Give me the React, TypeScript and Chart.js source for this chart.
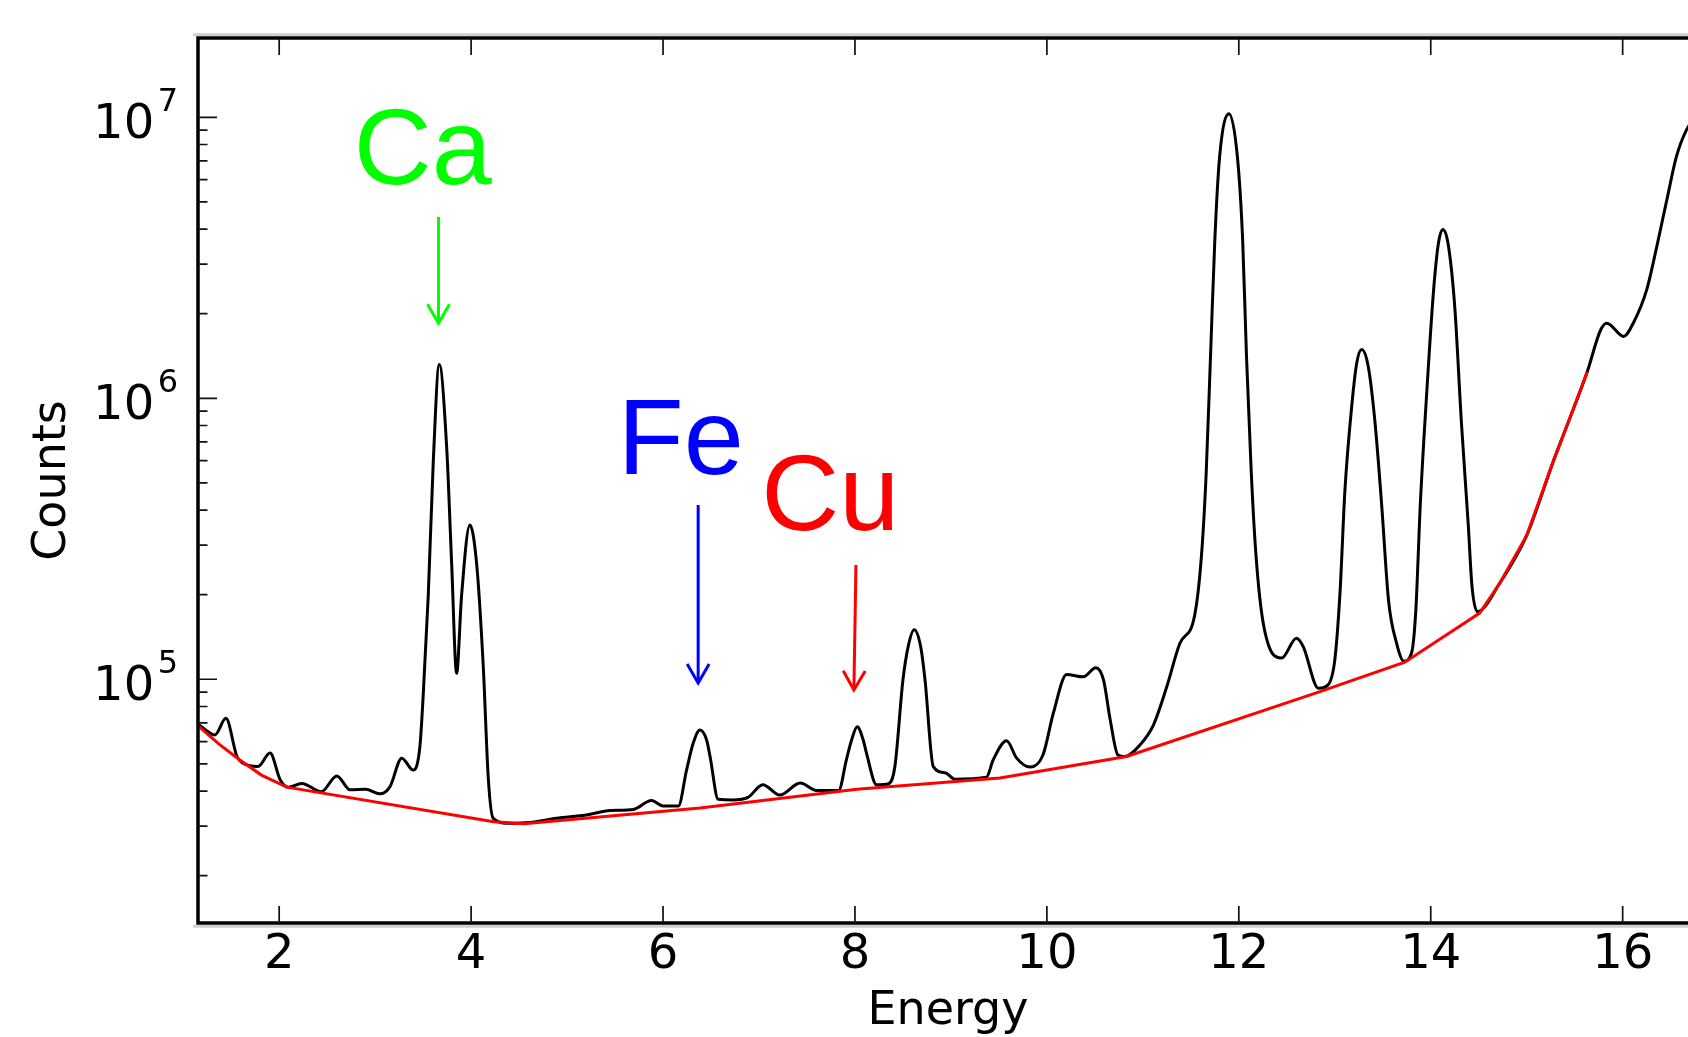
import React, { useEffect, useRef } from 'react';
import { Chart, registerables } from 'chart.js';

Chart.register(...registerables);

// ---- Spectrum (black) ----
const energy = [
  1.16, 1.33, 1.445, 1.56, 1.625, 1.78, 1.905, 2.01, 2.095, 2.235, 2.44, 2.6, 2.74, 2.9, 3.05, 3.155,
  3.277, 3.397, 3.466, 3.5, 3.553, 3.605, 3.668, 3.745, 3.797, 3.849, 3.9, 3.987, 4.057, 4.125, 4.18,
  4.23, 4.405, 4.61, 4.89, 5.2, 5.45, 5.69, 5.88, 6.0, 6.16, 6.245, 6.314, 6.385, 6.454, 6.49, 6.575, 6.73, 6.885,
  7.04, 7.216, 7.43, 7.6, 7.83, 7.91, 7.965, 8.023, 8.086, 8.12, 8.226, 8.347, 8.416, 8.5, 8.555, 8.617, 8.684, 8.73, 8.816, 8.94,
  9.04, 9.37, 9.44, 9.58, 9.685, 9.825, 9.96, 10.067, 10.206, 10.38, 10.51, 10.59, 10.66, 10.74, 10.81,
  10.97, 11.11, 11.25, 11.385, 11.54, 11.61, 11.66, 11.705, 11.75, 11.8, 11.898, 11.985, 12.04, 12.08,
  12.13, 12.18, 12.255, 12.447, 12.6, 12.67, 12.83, 12.93, 13.0, 13.054, 13.106, 13.176, 13.228, 13.28,
  13.35, 13.42, 13.49, 13.56, 13.645, 13.72, 13.8, 13.845, 13.89, 13.96, 14.03, 14.08, 14.125, 14.18,
  14.25, 14.32, 14.39, 14.43, 14.486, 14.72, 15.0, 15.28, 15.42, 15.63, 15.77, 15.835, 16.01, 16.11,
  16.25, 16.355, 16.46, 16.56, 16.665, 16.78,
];
const counts = [
  6.9e4, 6.34e4, 7.26e4, 5.31e4, 5.02e4, 4.89e4, 5.46e4, 4.39e4, 4.13e4, 4.26e4, 3.98e4, 4.53e4, 4.04e4, 4.06e4, 3.91e4, 4.15e4,
  5.24e4, 4.75e4, 5.75e4, 8.67e4, 1.97e5, 5.87e5, 1.32e6, 6.73e5, 2.59e5, 1.05e5, 1.97e5, 3.54e5, 2.59e5, 1.14e5, 4.39e4,
  3.2e4, 3.07e4, 3.09e4, 3.2e4, 3.29e4, 3.41e4, 3.44e4, 3.7e4, 3.54e4, 3.54e4, 4.75e4, 5.92e4, 6.6e4, 6.08e4, 5.31e4, 3.74e4, 3.72e4, 3.8e4,
  4.21e4, 3.87e4, 4.27e4, 4.02e4, 4.02e4, 5.16e4, 6.08e4, 6.78e4, 6.08e4, 5.46e4, 4.21e4, 4.24e4, 4.89e4, 9.95e4, 1.31e5, 1.5e5, 1.31e5, 9.95e4, 4.89e4, 4.65e4,
  4.41e4, 4.48e4, 5.16e4, 6.04e4, 5.24e4, 4.87e4, 5.39e4, 7.57e4, 1.04e5, 1.02e5, 1.1e5, 9.95e4, 7.16e4, 5.38e4, 5.31e4,
  5.84e4, 6.87e4, 9.42e4, 1.34e5, 1.69e5, 2.73e5, 5.41e5, 1.41e6, 3.66e6, 7.24e6, 1.03e7, 7.24e6, 3.66e6, 1.41e6,
  5.41e5, 2.73e5, 1.58e5, 1.19e5, 1.4e5, 1.31e5, 9.29e4, 9.55e4, 1.17e5, 2.02e5, 4.72e5, 9.33e5, 1.33e6, 1.49e6,
  1.29e6, 8.15e5, 4.11e5, 1.91e5, 1.34e5, 1.16e5, 1.24e5, 1.77e5, 4.11e5, 1.07e6, 2.43e6, 3.56e6, 3.99e6, 3.56e6,
  2.12e6, 8.15e5, 3.59e5, 2.14e5, 1.74e5, 2.2e5, 3.25e5, 6.0e5, 8.0e5, 1.24e6, 1.75e6, 1.85e6, 1.66e6, 1.85e6,
  2.43e6, 3.46e6, 5.08e6, 7.24e6, 9.02e6, 1.02e7,
];

// ---- Background (red) ----
const bgEnergy = [1.16, 1.38, 1.59, 1.815, 2.08, 4.235, 4.55, 6.385, 8.02, 9.51, 10.83, 12.846, 13.73, 14.51, 14.72, 15.0, 15.28, 15.42, 15.63];
const bgCounts = [6.8e4, 5.85e4, 5.16e4, 4.56e4, 4.13e4, 3.11e4, 3.06e4, 3.48e4, 4.06e4, 4.45e4, 5.31e4, 9.04e4, 1.15e5, 1.72e5, 2.2e5, 3.25e5, 6.0e5, 8.0e5, 1.24e6];

// ---- Axes ----
const xTicks = [2, 4, 6, 8, 10, 12, 14, 16];
const yMajor = [1e5, 1e6, 1e7];
const yMantissa = [2, 3, 4, 5, 6, 7, 8, 9];
const X_MIN = 1.154;
const X_MAX = 16.785;
const Y_MIN = 13570;
const Y_MAX = 1.915e7;

// ---- Annotations ----
const annText = ['Ca', 'Fe', 'Cu'];
const annColor = ['#00ff00', '#0000ff', '#ff0000'];
const annTextX = [3.496, 6.186, 7.744];
const annTextY = [5.77e6, 5.38e5, 3.41e5];
const arrStartX = [3.66, 6.366, 8.01];
const arrStartY = [4.42e6, 4.17e5, 2.55e5];
const arrEndX = [3.66, 6.366, 7.989];
const arrEndY = [1.85e6, 9.7e4, 9.16e4];

function drawArrow(ctx: CanvasRenderingContext2D, x0: number, y0: number, x1: number, y1: number, color: string) {
  const ang = Math.atan2(y1 - y0, x1 - x0);
  const hl = 22;
  const ha = Math.PI / 6;
  ctx.strokeStyle = color;
  ctx.lineWidth = 3;
  ctx.lineJoin = 'miter';
  ctx.beginPath();
  ctx.moveTo(x0, y0);
  ctx.lineTo(x1, y1);
  ctx.stroke();
  ctx.beginPath();
  ctx.moveTo(x1 - hl * Math.cos(ang - ha), y1 - hl * Math.sin(ang - ha));
  ctx.lineTo(x1, y1);
  ctx.lineTo(x1 - hl * Math.cos(ang + ha), y1 - hl * Math.sin(ang + ha));
  ctx.stroke();
}

const framePlugin = {
  id: 'frame',
  afterDraw(chart: any) {
    const { ctx, chartArea: ca, scales } = chart;
    const xs = scales.x;
    const ys = scales.y;
    ctx.save();
    // gray halos
    ctx.strokeStyle = '#d0d0d0';
    ctx.lineWidth = 3;
    ctx.beginPath();
    ctx.moveTo(ca.left - 5, ca.top - 3.2);
    ctx.lineTo(ca.right, ca.top - 3.2);
    ctx.moveTo(ca.left - 5, ca.bottom + 3.2);
    ctx.lineTo(ca.right, ca.bottom + 3.2);
    ctx.stroke();
    // spines
    ctx.strokeStyle = '#000';
    ctx.lineWidth = 3.5;
    ctx.beginPath();
    ctx.moveTo(ca.left, ca.top);
    ctx.lineTo(ca.right, ca.top);
    ctx.moveTo(ca.left, ca.bottom);
    ctx.lineTo(ca.right, ca.bottom);
    ctx.moveTo(ca.left, ca.top - 1.75);
    ctx.lineTo(ca.left, ca.bottom + 1.75);
    ctx.stroke();
    // x ticks (inward, top and bottom)
    ctx.strokeStyle = '#111';
    ctx.lineWidth = 1.7;
    ctx.beginPath();
    for (const t of xTicks) {
      const px = xs.getPixelForValue(t);
      ctx.moveTo(px, ca.top);
      ctx.lineTo(px, ca.top + 17);
      ctx.moveTo(px, ca.bottom);
      ctx.lineTo(px, ca.bottom - 17);
    }
    // y ticks
    for (const m of yMajor) {
      const py = ys.getPixelForValue(m);
      ctx.moveTo(ca.left, py);
      ctx.lineTo(ca.left + 19, py);
    }
    for (const dec of [1e4, 1e5, 1e6, 1e7]) {
      for (const k of yMantissa) {
        const v = k * dec;
        if (v <= Y_MIN || v >= Y_MAX) continue;
        const py = ys.getPixelForValue(v);
        ctx.moveTo(ca.left, py);
        ctx.lineTo(ca.left + 9.5, py);
      }
    }
    ctx.stroke();
    // y tick labels 10^n
    ctx.fillStyle = '#000';
    ctx.textBaseline = 'alphabetic';
    for (const m of yMajor) {
      const py = ys.getPixelForValue(m);
      const exp = String(Math.round(Math.log10(m)));
      ctx.font = '48px "DejaVu Sans"';
      ctx.textAlign = 'right';
      ctx.fillText('10', ca.left - 43.8, py + 21);
      ctx.font = '32px "DejaVu Sans"';
      ctx.textAlign = 'left';
      ctx.fillText(exp, ca.left - 40.2, py - 6);
    }
    // annotations
    for (let i = 0; i < annText.length; i++) {
      ctx.font = '108px "Liberation Sans"';
      ctx.textAlign = 'center';
      ctx.textBaseline = 'alphabetic';
      ctx.fillStyle = annColor[i];
      ctx.fillText(annText[i], xs.getPixelForValue(annTextX[i]), ys.getPixelForValue(annTextY[i]));
      drawArrow(
        ctx,
        xs.getPixelForValue(arrStartX[i]),
        ys.getPixelForValue(arrStartY[i]),
        xs.getPixelForValue(arrEndX[i]),
        ys.getPixelForValue(arrEndY[i]),
        annColor[i]
      );
    }
    ctx.restore();
  },
};

export default function App() {
  const ref = useRef<HTMLCanvasElement>(null);
  useEffect(() => {
    const spectrum = energy.map((e, i) => ({ x: e, y: counts[i] }));
    const background = bgEnergy.map((e, i) => ({ x: e, y: bgCounts[i] }));
    const chart = new Chart(ref.current as HTMLCanvasElement, {
      type: 'line',
      data: {
        datasets: [
          {
            label: 'Background',
            data: background,
            borderColor: '#ff0000',
            borderWidth: 3,
            pointRadius: 0,
            tension: 0,
            order: 0,
          },
          {
            label: 'Spectrum',
            data: spectrum,
            borderColor: '#000000',
            borderWidth: 3,
            pointRadius: 0,
            cubicInterpolationMode: 'monotone',
            order: 1,
          },
        ],
      },
      options: {
        responsive: false,
        devicePixelRatio: 1,
        animation: false,
        events: [],
        layout: { padding: { left: 0, top: 38, right: 12, bottom: 0 } },
        plugins: { legend: { display: false }, tooltip: { enabled: false } },
        scales: {
          x: {
            type: 'linear',
            position: 'bottom',
            min: X_MIN,
            max: X_MAX,
            afterBuildTicks: (scale: any) => {
              scale.ticks = xTicks.map((v) => ({ value: v }));
            },
            afterFit: (scale: any) => {
              scale.height = 114;
            },
            grid: { display: false, drawTicks: false },
            border: { display: false },
            ticks: {
              color: '#000',
              padding: 9,
              maxRotation: 0,
              autoSkip: false,
              font: { family: 'DejaVu Sans', size: 48, lineHeight: 1 },
              callback: (v: any) => String(v),
            },
            title: {
              display: true,
              text: 'Energy',
              color: '#000',
              font: { family: 'DejaVu Sans', size: 46, lineHeight: 1 },
              padding: { top: 0, bottom: 2 },
            },
          },
          y: {
            type: 'logarithmic',
            position: 'left',
            min: Y_MIN,
            max: Y_MAX,
            afterFit: (scale: any) => {
              scale.width = 198;
            },
            grid: { display: false, drawTicks: false },
            border: { display: false },
            ticks: { display: false },
            title: {
              display: true,
              text: 'Counts',
              color: '#000',
              font: { family: 'DejaVu Sans', size: 46, lineHeight: 1 },
              padding: { top: 30, bottom: 0 },
            },
          },
        },
      },
      plugins: [framePlugin],
    } as any);
    return () => chart.destroy();
  }, []);
  return (
    <div
      style={{
        position: 'fixed',
        left: 0,
        top: 0,
        width: 1688,
        height: 1037,
        overflow: 'hidden',
        background: '#ffffff',
      }}
    >
      <canvas ref={ref} width={1710} height={1037} style={{ display: 'block', width: 1710, height: 1037 }} />
    </div>
  );
}
